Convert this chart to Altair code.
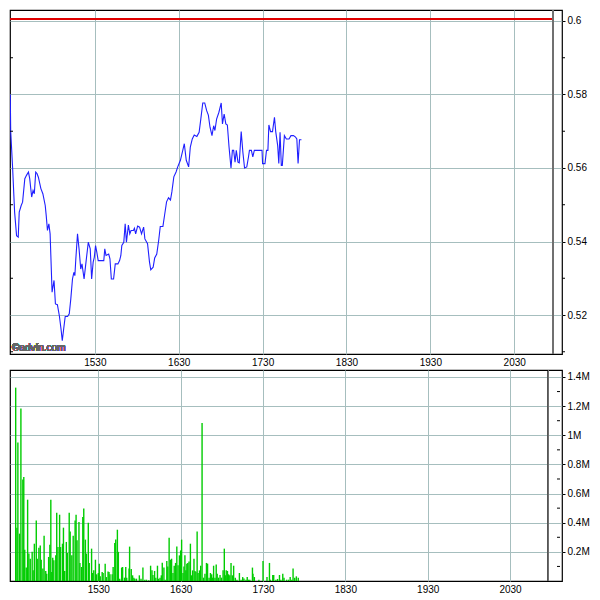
import altair as alt
import pandas as pd

# ---- data (times are minutes after midnight, e.g. 930 = 15:30) ----
price_time = [
    869.5, 869.8, 871.2, 872.6, 874.0, 875.2, 875.9, 877.3, 878.3, 879.9,
    881.1, 882.5, 883.4, 884.8, 885.8, 886.7, 887.7, 888.6, 889.6, 891.4,
    892.8, 894.5, 895.2, 896.1, 897.1, 898.0, 899.4, 900.8, 901.8, 903.2,
    904.6, 905.8, 906.7, 907.7, 908.8, 910.5, 911.7, 912.8, 914.0, 915.0,
    915.7, 916.4, 917.6, 918.7, 919.9, 920.8, 922.3, 923.4, 924.6, 925.3,
    926.7, 927.7, 928.8, 929.6, 930.5, 931.4, 932.4, 936.4, 937.1, 938.0,
    939.9, 940.8, 941.8, 943.4, 944.6, 946.5, 947.7, 948.6, 949.3, 950.7,
    951.7, 952.6, 954.0, 955.0, 955.9, 957.6, 958.3, 959.2, 960.6, 962.0,
    963.4, 964.9, 965.8, 967.7, 969.1,
    970.0, 971.7, 972.8, 974.3, 975.7, 976.8, 978.7, 979.9, 981.3, 982.7,
    984.1, 985.1, 986.5, 988.1, 989.3, 991.2, 992.9, 994.0, 995.4, 997.1,
    998.3, 999.7, 1001.1, 1003.0, 1004.6, 1005.8, 1007.2, 1008.6, 1010.0, 1011.2,
    1012.4, 1013.8, 1015.0, 1015.9, 1017.1, 1018.7, 1020.4, 1021.3, 1022.5, 1023.7,
    1024.8, 1026.0, 1027.4, 1028.4, 1029.3, 1030.3, 1031.2, 1032.4, 1033.3, 1034.7,
    1035.9, 1037.1, 1038.7, 1039.9, 1040.6, 1042.0, 1043.0, 1044.1, 1049.6, 1050.0,
    1051.7, 1052.8, 1053.8, 1054.5, 1055.7, 1057.1, 1058.5, 1059.4, 1060.8, 1061.6,
    1062.5, 1063.4, 1064.1, 1065.6, 1067.0, 1068.9, 1070.3, 1072.1, 1073.6, 1074.5,
    1075.4, 1076.4, 1077.8,
]
price_value = [
    0.580, 0.570, 0.5598, 0.548, 0.5416, 0.5412, 0.548, 0.5498, 0.5507, 0.5571,
    0.558, 0.5589, 0.5571, 0.5521, 0.5539, 0.553, 0.5589, 0.5585, 0.5575, 0.5544,
    0.553, 0.5498, 0.5471, 0.543, 0.5448, 0.5421, 0.5262, 0.5294, 0.523, 0.5228,
    0.5198, 0.5162, 0.513, 0.5162, 0.5196, 0.5196, 0.5203, 0.5244, 0.5298, 0.5316,
    0.5307, 0.5353, 0.5421, 0.538, 0.5325, 0.5339, 0.5298, 0.5335, 0.5375, 0.5398,
    0.538, 0.5298, 0.5344, 0.5357, 0.5389, 0.5371, 0.5348, 0.5348, 0.538, 0.5362,
    0.5366, 0.5353, 0.5298, 0.5298, 0.5339, 0.5339, 0.5348, 0.5362, 0.5389, 0.5398,
    0.5448, 0.5398, 0.5445, 0.5421, 0.543, 0.543, 0.5436, 0.5421, 0.5442, 0.5439,
    0.5421, 0.5439, 0.5407, 0.5394, 0.5344,
    0.5323, 0.533, 0.5355, 0.5366, 0.5404, 0.5441, 0.5441, 0.5472, 0.5508, 0.5519,
    0.5513, 0.5535, 0.5576, 0.5589, 0.5603, 0.5621, 0.5648, 0.5666, 0.5621, 0.5603,
    0.5657, 0.5679, 0.569, 0.5686, 0.5697, 0.5733, 0.5777, 0.5777, 0.5756, 0.5744,
    0.5711, 0.5688, 0.5715, 0.5702, 0.5733, 0.5751, 0.5777, 0.572, 0.5747, 0.572,
    0.5717, 0.5657, 0.56, 0.5648, 0.5648, 0.5616, 0.5648, 0.5616, 0.5614, 0.5699,
    0.5643, 0.56, 0.5603, 0.563, 0.5648, 0.5648, 0.563, 0.5648, 0.5648, 0.5612,
    0.5612, 0.5648, 0.5648, 0.5717, 0.5699, 0.5699, 0.5738, 0.5699, 0.5661, 0.5612,
    0.5697, 0.5607, 0.5607, 0.5688, 0.5679, 0.5679, 0.5688, 0.5688, 0.5684, 0.5679,
    0.5612, 0.5677, 0.5677,
]

vol_time = [
    869.8, 870.7, 871.4, 872.6, 873.6, 875.0, 875.7, 876.4, 877.5, 878.5,
    879.4, 880.4, 881.8, 882.5, 883.4, 884.8, 885.5, 886.7, 887.7, 888.4,
    889.6, 890.5, 891.7, 892.4, 893.8, 894.7, 895.4, 896.1, 896.8, 897.6,
    899.0, 899.7, 900.6, 901.8, 902.5, 903.9, 904.6, 905.5, 906.7, 907.4,
    908.8, 909.5, 910.7, 911.7, 913.1, 913.8, 914.5, 915.9, 916.6, 917.8,
    918.7, 919.4, 920.6, 921.3, 922.7, 923.4, 925.1, 925.8, 926.7, 927.9,
    928.8, 930.0, 930.7, 931.4, 932.8, 933.5, 935.0, 935.9, 937.1, 937.8,
    938.5, 940.1, 940.8, 942.0, 942.7, 943.9, 944.6, 945.6, 947.0, 947.7,
    949.1, 950.0, 950.7, 952.4, 952.8, 954.0, 955.0, 955.9, 956.6, 957.8,
    959.9, 961.1, 962.5, 963.9, 965.1, 966.7, 968.1, 969.1, 969.8, 971.0, 971.9,
    973.1, 974.0, 975.0, 975.9, 976.6, 977.8, 978.7, 979.9, 980.6, 981.6,
    982.5, 983.4, 984.4, 985.3, 986.3, 987.2, 988.1, 989.1, 990.0, 990.7,
    991.7, 992.4, 993.1, 993.8, 994.5, 995.2, 996.1, 997.1, 997.8, 998.7,
    999.7, 1000.4, 1001.1, 1002.0, 1002.7, 1003.7, 1004.6, 1005.6, 1006.7, 1007.7,
    1008.8, 1009.6, 1010.7, 1011.7, 1012.6, 1013.1, 1014.0, 1015.0, 1015.9, 1016.6,
    1017.6, 1018.7, 1019.7, 1020.9, 1021.8, 1022.5, 1023.2, 1024.1, 1024.9, 1025.8,
    1026.7, 1027.7, 1028.6, 1029.8, 1031.0, 1032.8, 1034.0, 1035.2, 1036.1, 1037.6,
    1038.5, 1039.4, 1040.4, 1042.3, 1042.7, 1043.7, 1047.0, 1050.0, 1052.9, 1054.7,
    1055.4, 1057.1, 1057.8, 1059.4, 1060.6, 1062.0, 1063.0, 1064.4, 1065.3, 1067.2,
    1068.6, 1069.8, 1071.0, 1071.9, 1073.1, 1074.3, 1075.7,
]
vol_m = [
    1.327, 0.366, 0.95, 0.325, 1.183, 0.696, 0.714, 0.215, 0.092, 0.558,
    0.188, 0.153, 0.2, 0.073, 0.256, 0.416, 0.153, 0.229, 0.243, 0.146,
    0.085, 0.311, 0.069, 0.05, 0.165, 0.249, 0.558, 0.062, 0.16, 0.142,
    0.176, 0.469, 0.233, 0.455, 0.233, 0.256, 0.366, 0.069, 0.268, 0.192,
    0.469, 0.339, 0.176, 0.311, 0.416, 0.455, 0.279, 0.405, 0.124, 0.096,
    0.439, 0.497, 0.284, 0.188, 0.4, 0.124, 0.222, 0.055, 0.073, 0.146,
    0.046, 0.055, 0.119, 0.032, 0.062, 0.055, 0.119, 0.027, 0.066, 0.062,
    0.046, 0.046, 0.096, 0.261, 0.284, 0.352, 0.2, 0.016, 0.092, 0.096,
    0.023, 0.096, 0.023, 0.085, 0.236, 0.082, 0.039, 0.023, 0.016, 0.016,
    0.039, 0.016, 0.092, 0.009, 0.009, 0.005, 0.105, 0.073, 0.041, 0.069, 0.023,
    0.105, 0.016, 0.023, 0.039, 0.126, 0.092, 0.009, 0.137, 0.1, 0.297,
    0.146, 0.153, 0.055, 0.105, 0.124, 0.236, 0.108, 0.176, 0.21, 0.284,
    0.055, 0.1, 0.176, 0.073, 0.119, 0.124, 0.133, 0.256, 0.039, 0.073,
    0.153, 0.069, 0.064, 0.339, 0.055, 0.073, 0.105, 1.085, 0.023, 0.05,
    0.124, 0.119, 0.023, 0.055, 0.046, 0.023, 0.105, 0.023, 0.114, 0.05,
    0.023, 0.041, 0.023, 0.073, 0.222, 0.039, 0.073, 0.069, 0.046, 0.039,
    0.124, 0.039, 0.105, 0.023, 0.009, 0.055, 0.009, 0.027, 0.018, 0.009,
    0.027, 0.009, 0.009, 0.092, 0.05, 0.027, 0.009, 0.137, 0.027, 0.124,
    0.009, 0.041, 0.041, 0.009, 0.014, 0.041, 0.009, 0.05, 0.023, 0.009,
    0.009, 0.027, 0.009, 0.085, 0.023, 0.032, 0.023,
]

prev_close = 0.6005
session_end = 1258.0
x_start, x_end = 869.3, 1264.2
hour_ticks = [930, 990, 1050, 1110, 1170, 1230]
price_ticks = [0.52, 0.54, 0.56, 0.58, 0.6]
price_minor = [0.51, 0.53, 0.55, 0.57, 0.59]
price_domain = [0.50939, 0.60299]
vol_ticks = [0.2, 0.4, 0.6, 0.8, 1.0, 1.2, 1.4]
vol_minor = [0.1, 0.3, 0.5, 0.7, 0.9, 1.1, 1.3]
vol_domain = [0, 1.448]

price_df = pd.DataFrame({"t": price_time, "p": price_value})
vol_df = pd.DataFrame({"t": vol_time, "v": vol_m})
pminor_df = pd.DataFrame({"p": price_minor})
vminor_df = pd.DataFrame({"v": vol_minor})

W = 552
H_TOP = 344
H_BOT = 211
GRID = "#a6bebe"
FONT = "Liberation Sans"
time_label = "format(floor(datum.value/60)*100 + datum.value%60, 'd')"

xscale = alt.Scale(domain=[x_start, x_end], nice=False, zero=False)
X_AXIS = alt.Axis(values=hour_ticks, labelExpr=time_label, grid=True,
                  gridColor=GRID, ticks=False, tickSize=0, domain=False,
                  labelPadding=3, labelFontSize=10, labelFont=FONT,
                  labelColor="black", labelOverlap=False, title=None)


def y_axis(values, expr):
    return alt.Axis(orient="right", values=values, labelExpr=expr, grid=True,
                    gridColor=GRID, tickSize=3, tickColor="black",
                    domain=False, labelPadding=2, labelFontSize=10,
                    labelFont=FONT, labelColor="black", labelOverlap=False,
                    title=None)


P_AXIS = y_axis(price_ticks, "format(datum.value, '.2~f')")
V_AXIS = y_axis(vol_ticks, "format(datum.value, '.1~f') + 'M'")

# ---------- top: price ----------
pscale = alt.Scale(domain=price_domain, nice=False, zero=False)
price_line = alt.Chart(price_df).mark_line(
    color="#1f1fff", strokeWidth=1.1, clip=True
).encode(
    x=alt.X("t:Q", scale=xscale, axis=X_AXIS),
    y=alt.Y("p:Q", scale=pscale, axis=P_AXIS),
)
prev_rule = alt.Chart(price_df).mark_rule(color="#e00000", strokeWidth=1).encode(
    y=alt.datum(prev_close), x=alt.datum(x_start), x2=alt.datum(session_end)
)
end_rule_top = alt.Chart(price_df).mark_rule(color="#707070", strokeWidth=1).encode(
    x=alt.datum(session_end)
)
pminor_r = alt.Chart(pminor_df).mark_rule(color="black", x2Offset=3, clip=False).encode(
    y=alt.Y("p:Q", scale=pscale, axis=P_AXIS), x=alt.datum(x_end), x2=alt.datum(x_end)
)
pminor_l = alt.Chart(pminor_df).mark_rule(color="black", x2Offset=3).encode(
    y=alt.Y("p:Q", scale=pscale, axis=P_AXIS), x=alt.datum(x_start), x2=alt.datum(x_start)
)
watermark = alt.Chart(price_df).mark_text(
    text="©advfn.com", align="left", baseline="bottom", dx=2, dy=-1,
    fontSize=10, font=FONT, color="#666666"
).encode(x=alt.datum(x_start), y=alt.datum(price_domain[0]))

top = alt.layer(price_line, prev_rule, end_rule_top, pminor_r, pminor_l,
                watermark).properties(width=W, height=H_TOP)

# ---------- bottom: volume ----------
vscale = alt.Scale(domain=vol_domain, nice=False, zero=True)
bars = alt.Chart(vol_df).mark_bar(color="#00cc00", size=1.4, clip=True).encode(
    x=alt.X("t:Q", scale=xscale, axis=X_AXIS),
    y=alt.Y("v:Q", scale=vscale, axis=V_AXIS),
)
end_rule_bot = alt.Chart(vol_df).mark_rule(color="#707070", strokeWidth=1).encode(
    x=alt.datum(session_end)
)
vminor_r = alt.Chart(vminor_df).mark_rule(color="black", x2Offset=3, clip=False).encode(
    y=alt.Y("v:Q", scale=vscale, axis=V_AXIS), x=alt.datum(x_end), x2=alt.datum(x_end)
)

bottom = alt.layer(bars, end_rule_bot, vminor_r).properties(width=W, height=H_BOT)

chart = alt.vconcat(top, bottom, spacing=0).properties(
    padding={"left": 0, "top": 0, "right": 0, "bottom": 0},
    background="white",
).configure_view(stroke="black", strokeWidth=1.2).configure_concat(spacing=0)

chart.save("out.html", embed_options={"renderer": "svg", "actions": False})
